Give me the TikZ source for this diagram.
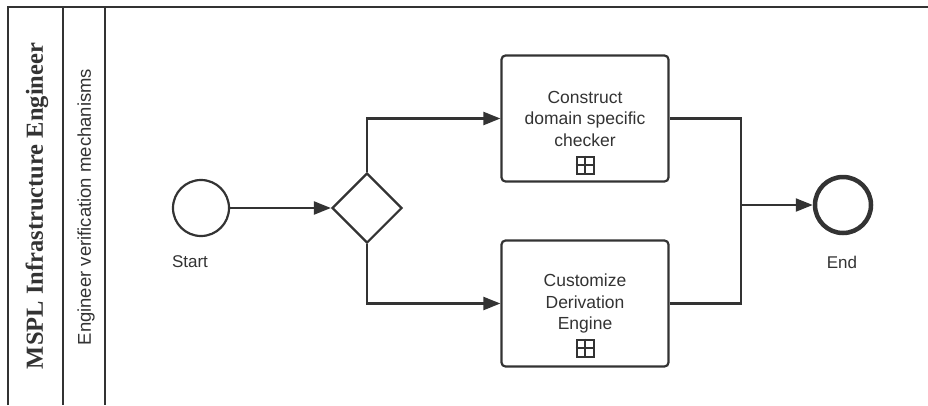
\documentclass[tikz,border=0pt]{standalone}
\usepackage{fontspec}
\setmainfont{Liberation Sans}
\newfontfamily\poolfont{Liberation Serif}
\usetikzlibrary{shapes.geometric,arrows.meta}

\definecolor{bpmnline}{HTML}{333333}

\tikzset{
  flow/.style={draw=bpmnline, line width=2.2pt, -{Triangle[length=17pt,width=13pt]}},
  seq/.style={draw=bpmnline, line width=2.2pt},
  startevent/.style={circle, draw=bpmnline, line width=2.2pt, minimum size=56pt, inner sep=0pt},
  endevent/.style={circle, draw=bpmnline, line width=4.5pt, minimum size=56pt, inner sep=0pt},
  gateway/.style={diamond, draw=bpmnline, line width=2.2pt, minimum size=70pt, inner sep=0pt},
  subprocess/.style={rectangle, rounded corners=4pt, draw=bpmnline, line width=2.2pt,
    minimum width=167pt, minimum height=126pt, align=center, text=bpmnline,
    font=\fontsize{17.5}{21.5}\selectfont},
  marker/.style={rectangle, draw=bpmnline, line width=2pt, minimum size=17pt, inner sep=0pt},
  evlabel/.style={text=bpmnline, font=\fontsize{17}{20}\selectfont},
}

\begin{document}
\begin{tikzpicture}[x=1pt, y=1pt]
  \useasboundingbox (0,0) rectangle (928,-405);

  % pool and lane
  \draw[seq] (8,-405) -- (8,-7) -- (928,-7);
  \draw[seq] (63,-7) -- (63,-405);
  \draw[seq] (105,-7) -- (105,-405);
  \node[rotate=90, font=\poolfont\bfseries\fontsize{24.5}{28}\selectfont, text=bpmnline] (pool) at (37,-206) {MSPL Infrastructure Engineer};
  \node[rotate=90, font=\fontsize{18.5}{20}\selectfont, text=bpmnline] (lane) at (86,-207) {Engineer verification mechanisms};

  % events, gateway, tasks
  \node[startevent] (start) at (201,-208) {};
  \node[evlabel] (startlbl) at (190,-262) {Start};
  \node[gateway] (gw) at (367,-208) {};
  \node[subprocess] (t1) at (585,-118.5) {Construct\\domain specific\\checker};
  \node[subprocess] (t2) at (585,-303.5) {Customize\\Derivation\\Engine};
  \node[endevent] (end) at (843,-205) {};
  \node[evlabel] (endlbl) at (842,-262) {End};

  % collapsed sub-process markers
  \node[marker] (m1) at (585,-165) {};
  \draw[bpmnline, line width=2pt] (m1.north) -- (m1.south) (m1.west) -- (m1.east);
  \node[marker] (m2) at (585,-348) {};
  \draw[bpmnline, line width=2pt] (m2.north) -- (m2.south) (m2.west) -- (m2.east);

  % sequence flows
  \coordinate (join) at (741,-205);
  \draw[flow] (start) -- (gw);
  \draw[flow] (gw.north) |- (t1.west);
  \draw[flow] (gw.south) |- (t2.west);
  \draw[seq] (t1.east) -| (join);
  \draw[seq] (t2.east) -| (join);
  \draw[flow] (join) -- (end);
\end{tikzpicture}
\end{document}
